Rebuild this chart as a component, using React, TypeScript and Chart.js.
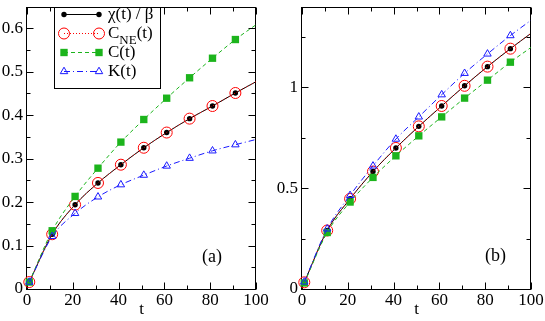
import React, { useEffect, useRef } from 'react';
import { Chart, registerables } from 'chart.js';

Chart.register(...registerables);

const FONT = '"Liberation Serif"';
const GREEN = '#1cb41c';
const BLUE = '#1a1aff';
const RED = '#ff0000';

// time points (markers every 10 steps, curve end at 100)
const T = [1, 11, 21, 31, 41, 51, 61, 71, 81, 91, 100];

// panel (a)
const chiA = [0.016, 0.126, 0.194, 0.244, 0.286, 0.325, 0.36, 0.392, 0.421, 0.451, 0.477];
const cneA = [0.016, 0.126, 0.194, 0.244, 0.286, 0.325, 0.36, 0.392, 0.421, 0.451, 0.477];
const cA = [0.016, 0.134, 0.213, 0.278, 0.338, 0.39, 0.439, 0.486, 0.531, 0.574, 0.608];
const kA = [0.016, 0.121, 0.174, 0.212, 0.24, 0.262, 0.283, 0.301, 0.318, 0.332, 0.344];

// panel (b)
const chiB = [0.033, 0.29, 0.447, 0.582, 0.699, 0.806, 0.907, 1.007, 1.102, 1.191, 1.267];
const cneB = [0.033, 0.29, 0.447, 0.582, 0.699, 0.806, 0.907, 1.007, 1.102, 1.191, 1.267];
const cB = [0.03, 0.28, 0.431, 0.553, 0.66, 0.759, 0.853, 0.946, 1.035, 1.124, 1.197];
const kB = [0.035, 0.298, 0.464, 0.61, 0.743, 0.853, 0.963, 1.069, 1.165, 1.256, 1.332];

// tick labels
const xTickLabels = ['0', '20', '40', '60', '80', '100'];
const yTickLabelsA = ['0', '0.1', '0.2', '0.3', '0.4', '0.5', '0.6'];
const yTickLabelsB = ['0', '0.5', '1'];

const legendLabels = ['χ(t) / β', 'C_NE(t)', 'C(t)', 'K(t)'];

function labelFor(labels: string[]) {
  return (value: number | string) => {
    const v = Number(value);
    const hit = labels.find((l) => Math.abs(parseFloat(l) - v) < 1e-6);
    return hit !== undefined ? hit : '';
  };
}

function pts(ys: number[]) {
  return T.map((t, i) => ({ x: t, y: ys[i] }));
}

function radii(r: number) {
  return T.map((_, i) => (i === T.length - 1 ? 0 : r));
}

function buildDatasets(chi: number[], cne: number[], c: number[], k: number[]) {
  const common = { borderWidth: 1, cubicInterpolationMode: 'monotone', clip: false, showLine: true };
  return [
    {
      ...common,
      label: 'chi',
      data: pts(chi),
      borderColor: '#000',
      pointStyle: 'circle',
      pointRadius: radii(2.7),
      pointBackgroundColor: '#000',
      pointBorderColor: '#000',
      pointBorderWidth: 0,
      order: 4,
    },
    {
      ...common,
      label: 'cne',
      data: pts(cne),
      borderColor: RED,
      borderDash: [1, 2],
      pointStyle: 'circle',
      pointRadius: radii(5.5),
      pointBackgroundColor: 'rgba(0,0,0,0)',
      pointBorderColor: RED,
      pointBorderWidth: 1,
      order: 3,
    },
    {
      ...common,
      label: 'c',
      data: pts(c),
      borderColor: GREEN,
      borderDash: [4, 3],
      pointStyle: 'rect',
      pointRadius: radii(5.2),
      pointBackgroundColor: GREEN,
      pointBorderColor: GREEN,
      pointBorderWidth: 0,
      order: 2,
    },
    {
      ...common,
      label: 'k',
      data: pts(k),
      borderColor: BLUE,
      borderDash: [6, 3, 1, 3],
      pointStyle: 'triangle',
      pointRadius: radii(4.3),
      pointBackgroundColor: 'rgba(0,0,0,0)',
      pointBorderColor: BLUE,
      pointBorderWidth: 1,
      order: 1,
    },
  ];
}

function drawMarker(ctx: CanvasRenderingContext2D, kind: number, x: number, y: number) {
  ctx.save();
  ctx.setLineDash([]);
  ctx.lineWidth = 1;
  if (kind === 0) {
    ctx.fillStyle = '#000';
    ctx.beginPath();
    ctx.arc(x, y, 2.7, 0, Math.PI * 2);
    ctx.fill();
  } else if (kind === 1) {
    ctx.strokeStyle = RED;
    ctx.beginPath();
    ctx.arc(x, y, 5.5, 0, Math.PI * 2);
    ctx.stroke();
  } else if (kind === 2) {
    ctx.fillStyle = GREEN;
    const s = 5.2 * Math.SQRT1_2;
    ctx.fillRect(x - s, y - s, 2 * s, 2 * s);
  } else {
    ctx.strokeStyle = BLUE;
    const r = 4.3;
    ctx.beginPath();
    ctx.moveTo(x, y - r);
    ctx.lineTo(x + r * Math.sin(Math.PI / 3), y + r / 2);
    ctx.lineTo(x - r * Math.sin(Math.PI / 3), y + r / 2);
    ctx.closePath();
    ctx.stroke();
  }
  ctx.restore();
}

function makeDecor(panelLabel: string, labelPos: { x: number; y: number }, withLegend: boolean) {
  return {
    id: 'decor',
    beforeDatasetsDraw(chart: any) {
      const { ctx, chartArea } = chart;
      const L = Math.round(chartArea.left) - 0.5;
      const R = Math.round(chartArea.right) - 0.5;
      const Tp = Math.round(chartArea.top) + 0.5;
      const B = Math.round(chartArea.bottom) + 0.5;
      ctx.save();
      ctx.strokeStyle = '#000';
      ctx.lineWidth = 1;
      ctx.setLineDash([]);
      ctx.strokeRect(L, Tp, R - L, B - Tp);
      const xs = chart.scales.x;
      const ys = chart.scales.y;
      ctx.beginPath();
      xs.ticks.forEach((tk: any) => {
        const px = Math.round(xs.getPixelForValue(tk.value)) + 0.5;
        const len = tk.label ? 7 : 4;
        ctx.moveTo(px, B);
        ctx.lineTo(px, B - len);
        ctx.moveTo(px, Tp);
        ctx.lineTo(px, Tp + len);
      });
      ys.ticks.forEach((tk: any) => {
        const v = tk.value;
        if (Math.abs(v / 0.05 - Math.round(v / 0.05)) > 1e-6) return;
        const py = Math.round(ys.getPixelForValue(v)) + 0.5;
        const len = tk.label ? 7 : 4;
        ctx.moveTo(L, py);
        ctx.lineTo(L + len, py);
        ctx.moveTo(R, py);
        ctx.lineTo(R - len, py);
      });
      ctx.stroke();
      ctx.restore();
    },
    afterDatasetsDraw(chart: any) {
      const { ctx, chartArea } = chart;
      const xs = chart.scales.x;
      const ys = chart.scales.y;
      ctx.save();
      ctx.fillStyle = '#000';
      ctx.font = `18px ${FONT}`;
      ctx.textAlign = 'center';
      ctx.textBaseline = 'middle';
      ctx.fillText(panelLabel, xs.getPixelForValue(labelPos.x), ys.getPixelForValue(labelPos.y));
      ctx.restore();

      if (!withLegend) return;
      ctx.save();
      const bx = 54.5, by = Math.round(chartArea.top) + 0.5, bw = 106, bh = 81;
      ctx.fillStyle = '#fff';
      ctx.fillRect(bx, by, bw, bh);
      ctx.strokeStyle = '#000';
      ctx.lineWidth = 1;
      ctx.strokeRect(bx, by, bw, bh);
      const rows = [14, 33, 52, 71];
      const colors = ['#000', RED, GREEN, BLUE];
      const dashes = [[], [1, 2], [4, 3], [6, 3, 1, 3]];
      const x1 = 64, x2 = 99, tx = 108;
      rows.forEach((ry, i) => {
        ctx.save();
        ctx.strokeStyle = colors[i];
        ctx.lineWidth = 1;
        ctx.setLineDash(dashes[i]);
        ctx.beginPath();
        ctx.moveTo(x1, ry + 0.5);
        ctx.lineTo(x2, ry + 0.5);
        ctx.stroke();
        ctx.restore();
        drawMarker(ctx, i, x1, ry + 0.5);
        drawMarker(ctx, i, x2, ry + 0.5);
        ctx.fillStyle = '#000';
        ctx.textAlign = 'left';
        ctx.textBaseline = 'alphabetic';
        const base = ry + 5;
        const label = legendLabels[i];
        if (label.includes('_')) {
          const [main, rest] = label.split('_');
          const sub = rest.slice(0, 2);
          const tail = rest.slice(2);
          let x = tx;
          ctx.font = `17px ${FONT}`;
          ctx.fillText(main, x, base);
          x += ctx.measureText(main).width;
          ctx.font = `13px ${FONT}`;
          ctx.fillText(sub, x, base + 6);
          x += ctx.measureText(sub).width;
          ctx.font = `17px ${FONT}`;
          ctx.fillText(tail, x, base);
        } else {
          ctx.font = `17px ${FONT}`;
          ctx.fillText(label, tx, base);
        }
      });
      ctx.restore();
    },
  };
}

type PanelProps = {
  width: number;
  yMax: number;
  yStep: number;
  yLabels: string[];
  yWidth: number;
  padRight: number;
  chi: number[];
  cne: number[];
  c: number[];
  k: number[];
  panelLabel: string;
  labelPos: { x: number; y: number };
  legend: boolean;
};

function Panel(p: PanelProps) {
  const ref = useRef<HTMLCanvasElement | null>(null);
  useEffect(() => {
    if (!ref.current) return;
    const tickFont = { family: FONT, size: 17 };
    const chart = new Chart(ref.current, {
      type: 'line',
      data: { datasets: buildDatasets(p.chi, p.cne, p.c, p.k) as any },
      options: {
        responsive: false,
        animation: false,
        devicePixelRatio: 1,
        events: [],
        font: { family: FONT, size: 17 },
        layout: { padding: { left: 0, top: 1, right: p.padRight, bottom: 0 } },
        plugins: { legend: { display: false }, tooltip: { enabled: false } },
        scales: {
          x: {
            type: 'linear',
            min: 0,
            max: 100,
            grid: { display: false, drawTicks: false },
            border: { display: false },
            ticks: {
              stepSize: 10,
              autoSkip: false,
              maxRotation: 0,
              minRotation: 0,
              padding: 1,
              color: '#000',
              font: tickFont,
              callback: labelFor(xTickLabels),
            },
            title: {
              display: true,
              text: 't',
              color: '#000',
              font: tickFont,
              padding: { top: 0, bottom: 1 },
            },
            afterFit: (s: any) => {
              s.height = 32;
              s.paddingLeft = 0;
              s.paddingRight = 0;
            },
          },
          y: {
            type: 'linear',
            min: 0,
            max: p.yMax,
            grid: { display: false, drawTicks: false },
            border: { display: false },
            ticks: {
              stepSize: p.yStep,
              autoSkip: false,
              padding: 4,
              color: '#000',
              font: tickFont,
              callback: labelFor(p.yLabels),
            },
            afterFit: (s: any) => {
              s.width = p.yWidth;
              s.paddingTop = 0;
              s.paddingBottom = 0;
            },
          },
        },
      } as any,
      plugins: [makeDecor(p.panelLabel, p.labelPos, p.legend) as any],
    });
    return () => chart.destroy();
  }, []);
  return <canvas ref={ref} width={p.width} height={321} style={{ display: 'block' }} />;
}

export default function App() {
  return (
    <div
      style={{
        position: 'absolute',
        left: 0,
        top: 0,
        width: 545,
        height: 321,
        display: 'flex',
        background: '#fff',
      }}
    >
      <Panel
        width={272}
        yMax={0.65}
        yStep={0.05}
        yLabels={yTickLabelsA}
        yWidth={27}
        padRight={16}
        chi={chiA}
        cne={cneA}
        c={cA}
        k={kA}
        panelLabel="(a)"
        labelPos={{ x: 80.8, y: 0.074 }}
        legend={true}
      />
      <Panel
        width={273}
        yMax={1.4}
        yStep={0.25}
        yLabels={yTickLabelsB}
        yWidth={30}
        padRight={14}
        chi={chiB}
        cne={cneB}
        c={cB}
        k={kB}
        panelLabel="(b)"
        labelPos={{ x: 84.5, y: 0.163 }}
        legend={false}
      />
    </div>
  );
}
